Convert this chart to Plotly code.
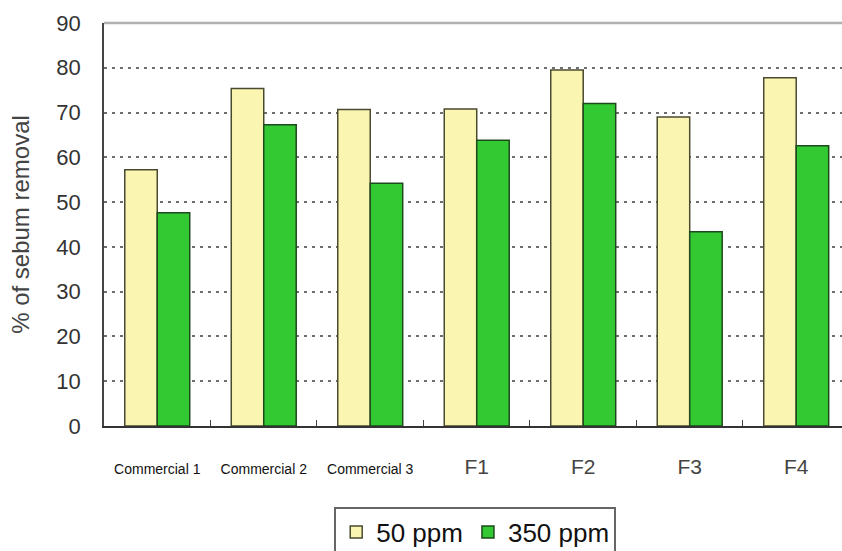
import plotly.graph_objects as go

categories = ["Commercial 1", "Commercial 2", "Commercial 3", "F1", "F2", "F3", "F4"]
removal_50ppm = [57.2, 75.4, 70.7, 70.8, 79.5, 69.0, 77.8]
removal_350ppm = [47.6, 67.3, 54.2, 63.8, 72.0, 43.4, 62.6]
y_ticks = [0, 10, 20, 30, 40, 50, 60, 70, 80, 90]

small = "font-size:14px;color:#111"
tick_text = [
    f'<span style="{small}">{c}</span>' if c.startswith("Commercial") else c
    for c in categories
]

fig = go.Figure()
fig.add_trace(go.Bar(
    x=categories, y=removal_50ppm, name="50 ppm",
    marker=dict(color="#FBF5B2", line=dict(color="#4a4a30", width=1.5)),
))
fig.add_trace(go.Bar(
    x=categories, y=removal_350ppm, name="350 ppm",
    marker=dict(color="#33C933", line=dict(color="#1d4a1d", width=1.5)),
))

fig.update_layout(
    width=842, height=551,
    margin=dict(l=104, r=0, t=23, b=125, autoexpand=False),
    paper_bgcolor="white", plot_bgcolor="white",
    barmode="group", bargap=0.39, bargroupgap=0,
    font=dict(family="Liberation Sans, Arial, sans-serif", color="#333"),
    showlegend=True,
    legend=dict(
        orientation="h", x=0.503, xanchor="center", y=-0.2, yanchor="top",
        font=dict(size=26, color="#111"),
        bordercolor="#666", borderwidth=2, bgcolor="white",
        itemwidth=30, tracegroupgap=0,
    ),
    xaxis=dict(
        range=[-0.5, 6.43], automargin=False,
        tickmode="array", tickvals=categories, ticktext=tick_text,
        tickangle=0,
        tickfont=dict(size=21, color="#444"),
        tickson="boundaries", ticks="inside", ticklen=6, tickcolor="#444",
        ticklabelstandoff=21,
        showline=True, linecolor="#333", linewidth=1.5,
        showgrid=False, zeroline=False,
    ),
    yaxis=dict(
        range=[0, 90], tickvals=y_ticks, automargin=False,
        tickfont=dict(size=22, color="#333"),
        ticklabelstandoff=17,
        showline=True, linecolor="#444", linewidth=1.5,
        showgrid=True, gridcolor="#6e6e6e", gridwidth=1.5, griddash="3px,5px",
        zeroline=False,
        title=dict(text="% of sebum removal", font=dict(size=24, color="#444"), standoff=20),
    ),
)

# light frame along the top of the plotting area
fig.add_shape(type="line", xref="paper", yref="paper", x0=0, x1=1, y0=1, y1=1,
              line=dict(color="#b0b0b0", width=2.5))

fig.write_html("out.html")
